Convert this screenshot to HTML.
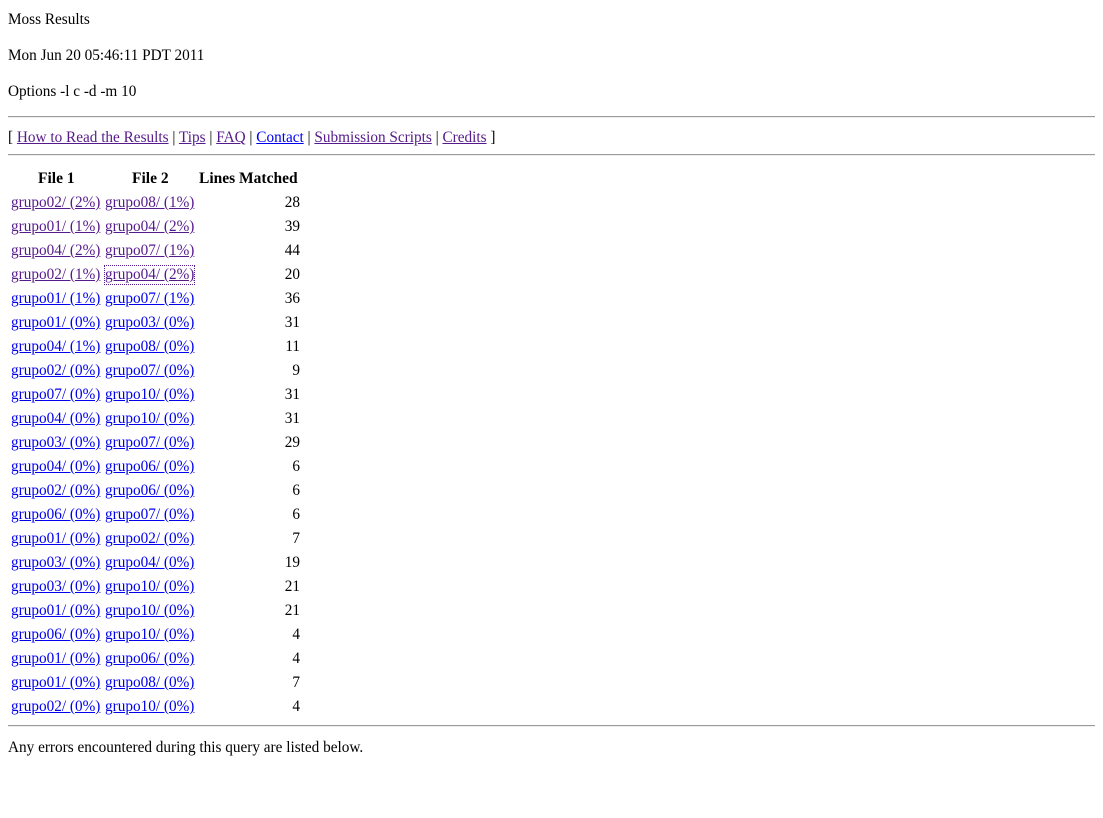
<!DOCTYPE html>
<html><head><meta charset="utf-8">
<style>
body{margin:0;width:1103px;height:818px;background:#fff;font-family:"Liberation Serif",serif;font-size:15.25px;color:#000;position:relative;overflow:hidden}
.t{position:absolute;white-space:nowrap;line-height:18px}
a{color:#0000ee;text-decoration:underline}
a.v{color:#551a8b}
hr{position:absolute;left:8px;width:1087px;margin:0;border:0;border-top:1px solid #9a9a9a;border-bottom:1px solid #eee;height:0}
.h{font-weight:bold;font-size:15.5px}
.focus{outline:1px dotted #551a8b}
</style></head><body>
<div class="t" style="left:8px;top:11px">Moss Results</div>
<div class="t" style="left:8px;top:47px">Mon Jun 20 05:46:11 PDT 2011</div>
<div class="t" style="left:8px;top:83px">Options -l c -d -m 10</div>
<hr style="top:116px">
<div class="t" style="left:8px;top:129px">[ <a class="v" href="#">How to Read the Results</a> | <a class="v" href="#">Tips</a> | <a class="v" href="#">FAQ</a> | <a href="#">Contact</a> | <a class="v" href="#">Submission Scripts</a> | <a class="v" href="#">Credits</a> ]</div>
<hr style="top:154px">
<div class="t h" style="left:38px;top:170px">File 1</div>
<div class="t h" style="left:132px;top:170px">File 2</div>
<div class="t h" style="left:199px;top:170px">Lines Matched</div>
<div id="rows"></div>
<hr style="top:725px">
<div class="t" style="left:8px;top:739px">Any errors encountered during this query are listed below.</div>
<script>
const file1=["grupo02/ (2%)","grupo01/ (1%)","grupo04/ (2%)","grupo02/ (1%)","grupo01/ (1%)","grupo01/ (0%)","grupo04/ (1%)","grupo02/ (0%)","grupo07/ (0%)","grupo04/ (0%)","grupo03/ (0%)","grupo04/ (0%)","grupo02/ (0%)","grupo06/ (0%)","grupo01/ (0%)","grupo03/ (0%)","grupo03/ (0%)","grupo01/ (0%)","grupo06/ (0%)","grupo01/ (0%)","grupo01/ (0%)","grupo02/ (0%)"];
const file2=["grupo08/ (1%)","grupo04/ (2%)","grupo07/ (1%)","grupo04/ (2%)","grupo07/ (1%)","grupo03/ (0%)","grupo08/ (0%)","grupo07/ (0%)","grupo10/ (0%)","grupo10/ (0%)","grupo07/ (0%)","grupo06/ (0%)","grupo06/ (0%)","grupo07/ (0%)","grupo02/ (0%)","grupo04/ (0%)","grupo10/ (0%)","grupo10/ (0%)","grupo10/ (0%)","grupo06/ (0%)","grupo08/ (0%)","grupo10/ (0%)"];
const linesMatched=[28,39,44,20,36,31,11,9,31,31,29,6,6,6,7,19,21,21,4,4,7,4];
const visitedCount=4;
const rows=document.getElementById('rows');
for(let i=0;i<file1.length;i++){
  const top=194+i*24;
  const a1=document.createElement('a');
  a1.href='#';a1.className='t'+(i<visitedCount?' v':'');
  a1.style.left='11px';a1.style.top=top+'px';a1.textContent=file1[i];
  
  
  rows.appendChild(a1);
  const a2=document.createElement('a');
  a2.href='#';a2.className='t'+(i<visitedCount?' v':'')+(i===3?' focus':'');
  a2.style.left='105px';a2.style.top=top+'px';a2.textContent=file2[i];
  
  
  rows.appendChild(a2);
  const n=document.createElement('div');
  n.className='t';n.style.right=(1103-300)+'px';n.style.top=top+'px';n.textContent=linesMatched[i];
  
  
  rows.appendChild(n);
}
</script>
</body></html>
